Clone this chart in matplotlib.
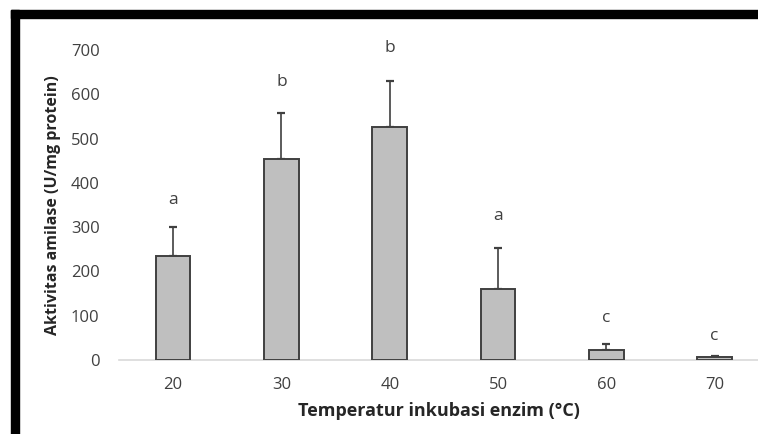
import matplotlib.pyplot as plt
from matplotlib.patches import Rectangle

plt.rcParams["font.family"] = ["Open Sans", "DejaVu Sans"]

suhu = ["20", "30", "40", "50", "60", "70"]
aktivitas = [235, 455, 526, 160, 22, 6]
galat = [66, 102, 104, 94, 14, 3]
huruf = ["a", "b", "b", "a", "c", "c"]
posisi_huruf = [361, 627, 704, 325, 95, 54]

abu = "#404040"

fig = plt.figure(figsize=(7.58, 4.34), dpi=100)
ax = fig.add_axes([0.157, 0.1705, 0.843, 0.714])

x = range(len(suhu))
ax.bar(x, aktivitas, width=0.32, color="#bfbfbf", edgecolor=abu, linewidth=1.4, zorder=3)
ax.errorbar(x, aktivitas, yerr=[[0] * len(galat), galat], fmt="none",
            ecolor=abu, elinewidth=1.2, capsize=3, capthick=1.6, zorder=2)

for i, (h, y) in enumerate(zip(huruf, posisi_huruf)):
    ax.text(i, y, h, ha="center", va="center", fontsize=12.5, color=abu)

ax.set_xlim(-0.5, 5.4)
ax.set_ylim(0, 700)
ax.set_yticks(range(0, 701, 100))
ax.set_xticks(list(x))
ax.set_xticklabels(suhu)
ax.tick_params(length=0, labelsize=12, labelcolor=abu)
ax.tick_params(axis="y", pad=14)
ax.tick_params(axis="x", pad=12)

for s in ["top", "right", "left"]:
    ax.spines[s].set_visible(False)
ax.spines["bottom"].set_color("#d9d9d9")
ax.spines["bottom"].set_linewidth(1.2)

ax.set_ylabel("Aktivitas amilase (U/mg protein)", fontsize=11.5, fontweight="bold",
              color="#262626", labelpad=7)
ax.set_xlabel("Temperatur inkubasi enzim (°C)", fontsize=13, fontweight="bold",
              color="#262626", labelpad=7)

# black frame pieces at top and left
fig.add_artist(Rectangle((11 / 758, 1 - 18 / 434), 1, 8 / 434,
                         transform=fig.transFigure, color="black", zorder=10))
fig.add_artist(Rectangle((11 / 758, 0), 8 / 758, 1 - 10 / 434,
                         transform=fig.transFigure, color="black", zorder=10))

fig.savefig("out.png", dpi=100)
